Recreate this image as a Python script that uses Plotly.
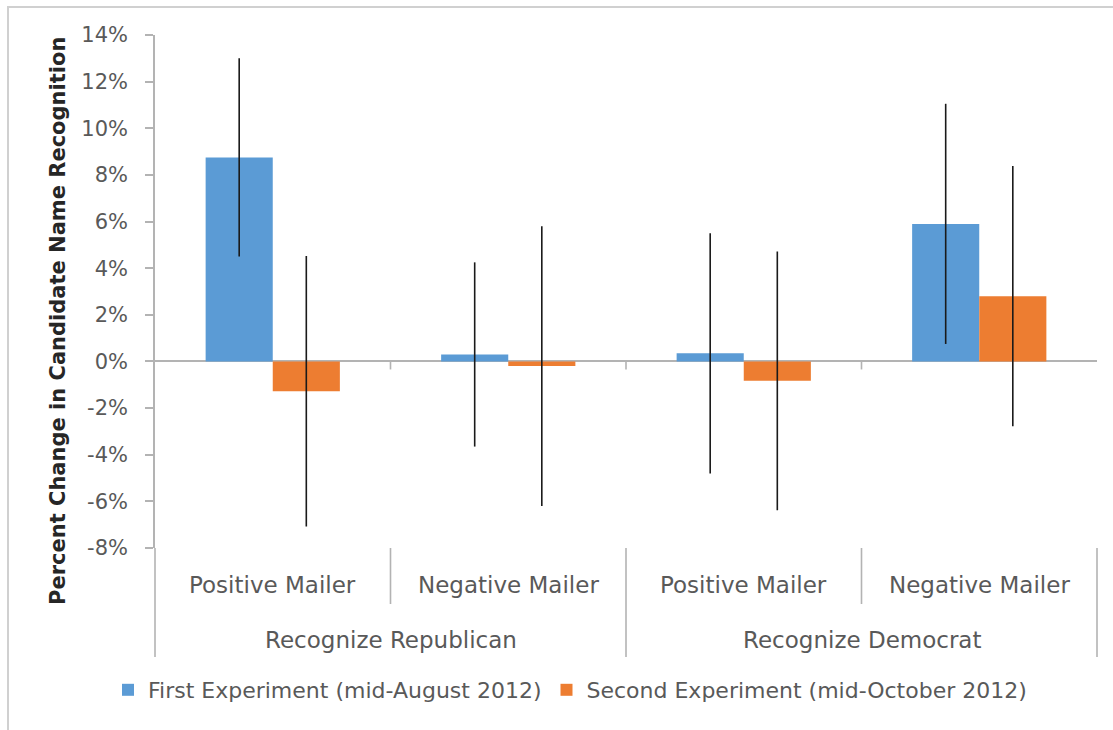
import plotly.graph_objects as go

# Grouped categories: outer group (candidate recognised) and inner mailer type
groups = ["Recognize Republican", "Recognize Republican", "Recognize Democrat", "Recognize Democrat"]
mailers = ["Positive Mailer", "Negative Mailer", "Positive Mailer", "Negative Mailer"]

first_name = "First Experiment (mid-August 2012)"
first_vals = [8.75, 0.30, 0.35, 5.90]
first_err = [4.25, 3.95, 5.15, 5.15]

second_name = "Second Experiment (mid-October 2012)"
second_vals = [-1.28, -0.20, -0.83, 2.80]
second_err = [5.80, 6.00, 5.55, 5.58]

y_ticks = [-8, -6, -4, -2, 0, 2, 4, 6, 8, 10, 12, 14]
y_ticktext = [f"{v}%" for v in y_ticks]

BLUE = "#5B9BD5"
ORANGE = "#ED7D31"
AXIS = "#b3b3b3"
TEXT = "#595959"
FONT = "DejaVu Sans"

W, H = 1113, 730
M = dict(l=155, r=16, t=35, b=182, autoexpand=False)
plot_w = W - M["l"] - M["r"]
plot_h = H - M["t"] - M["b"]


def px_x(px):
    return (px - M["l"]) / plot_w


def px_y(py):
    return (H - M["b"] - py) / plot_h


x = [groups, mailers]

fig = go.Figure()
fig.add_trace(go.Bar(
    x=x, y=first_vals, name=first_name, marker=dict(color=BLUE, line=dict(width=0)),
    error_y=dict(type="data", array=first_err, symmetric=True, color="#1a1a1a", thickness=1.6, width=0),
))
fig.add_trace(go.Bar(
    x=x, y=second_vals, name=second_name, marker=dict(color=ORANGE, line=dict(width=0)),
    error_y=dict(type="data", array=second_err, symmetric=True, color="#1a1a1a", thickness=1.6, width=0),
))

n = len(mailers)
shapes = []
annotations = []

# Category labels below the plot, with Excel-style separators
for i, m in enumerate(mailers):
    annotations.append(dict(
        x=(i + 0.5) / n, y=px_y(585), xref="paper", yref="paper", text=m, showarrow=False,
        font=dict(family=FONT, size=23, color=TEXT), xanchor="center", yanchor="middle",
    ))
outer = []
for g in groups:
    if g not in outer:
        outer.append(g)
for g in outer:
    idx = [i for i, gg in enumerate(groups) if gg == g]
    cx = (idx[0] + idx[-1] + 1) / 2 / n
    annotations.append(dict(
        x=cx, y=px_y(640), xref="paper", yref="paper", text=g, showarrow=False,
        font=dict(family=FONT, size=23, color=TEXT), xanchor="center", yanchor="middle",
    ))

for k in range(n + 1):
    is_outer = k == 0 or k == n or groups[k - 1] != groups[k]
    bottom = px_y(657) if is_outer else px_y(604)
    shapes.append(dict(type="line", xref="paper", yref="paper", x0=k / n, x1=k / n,
                       y0=0, y1=bottom, line=dict(color=AXIS, width=1.6)))
    if 0 < k < n:
        # small tick marks on the zero line
        shapes.append(dict(type="line", xref="paper", yref="y", xsizemode="scaled",
                           ysizemode="pixel", yanchor=0, x0=k / n, x1=k / n, y0=0, y1=-8,
                           line=dict(color=AXIS, width=1.6)))

# Chart border
shapes.append(dict(type="rect", xref="paper", yref="paper", x0=px_x(8), x1=px_x(1125),
                   y0=px_y(745), y1=px_y(7), line=dict(color="#d0d0d0", width=2),
                   fillcolor="rgba(0,0,0,0)", layer="below"))

annotations.append(dict(
    x=px_x(58), y=px_y(321), xref="paper", yref="paper", showarrow=False, textangle=-90,
    text="<b>Percent Change in Candidate Name Recognition</b>",
    font=dict(family=FONT, size=21, color="#262626"), xanchor="center", yanchor="middle",
))

fig.update_layout(
    width=W, height=H, margin=M,
    paper_bgcolor="white", plot_bgcolor="white",
    barmode="group", bargap=0.43, bargroupgap=0,
    font=dict(family=FONT, size=22, color=TEXT),
    showlegend=True,
    legend=dict(orientation="h", x=px_x(570), xanchor="center", y=px_y(690), yanchor="middle",
                font=dict(family=FONT, size=22, color=TEXT), itemwidth=30,
                bgcolor="rgba(0,0,0,0)"),
    shapes=shapes, annotations=annotations,
)
fig.update_xaxes(type="multicategory", showticklabels=False, ticks="", showline=False,
                 showgrid=False, showdividers=False, zeroline=False)
fig.update_yaxes(range=[-8, 14], tickmode="array", tickvals=y_ticks, ticktext=y_ticktext,
                 showgrid=False, showline=True, linecolor=AXIS, linewidth=1.6,
                 ticks="outside", ticklen=8, tickcolor=AXIS, tickwidth=1.6,
                 zeroline=True, zerolinecolor=AXIS, zerolinewidth=1.6, ticklabelstandoff=13,
                 tickfont=dict(family=FONT, size=21, color=TEXT))

fig.write_html("out.html")
